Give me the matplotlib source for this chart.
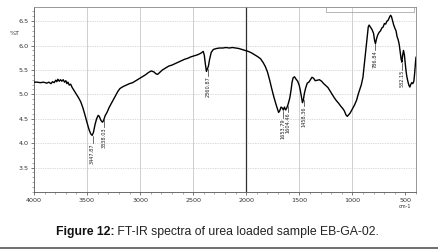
import numpy as np
import matplotlib
matplotlib.use("Agg")
import matplotlib.pyplot as plt
from matplotlib.patches import Rectangle

# ---- data ----
spec = [
(4000, 5.25),(3970, 5.25),(3940, 5.24),(3910, 5.25),(3880, 5.23),(3860, 5.25),(3840, 5.22),
(3825, 5.26),(3810, 5.24),(3795, 5.29),(3785, 5.26),(3775, 5.31),(3762, 5.27),(3750, 5.30),
(3738, 5.27),(3725, 5.30),(3712, 5.25),(3700, 5.28),(3690, 5.22),(3680, 5.25),(3668, 5.19),
(3655, 5.21),(3640, 5.14),(3620, 5.07),(3600, 5.00),(3580, 4.93),(3560, 4.85),(3540, 4.73),
(3520, 4.58),(3500, 4.42),(3480, 4.27),(3465, 4.19),(3452, 4.16),(3440, 4.22),(3425, 4.38),
(3410, 4.50),(3395, 4.57),(3385, 4.55),(3370, 4.47),(3355, 4.43),(3345, 4.46),(3330, 4.56),
(3310, 4.64),(3290, 4.74),(3270, 4.82),(3250, 4.90),(3230, 4.98),(3210, 5.06),(3190, 5.12),
(3160, 5.16),(3130, 5.19),(3100, 5.22),(3070, 5.24),(3040, 5.28),(3010, 5.32),(2980, 5.36),
(2950, 5.40),(2920, 5.45),(2895, 5.48),(2870, 5.46),(2850, 5.42),(2835, 5.41),(2815, 5.45),
(2790, 5.50),(2760, 5.54),(2730, 5.58),(2700, 5.60),(2670, 5.63),(2640, 5.66),(2610, 5.69),
(2580, 5.72),(2550, 5.74),(2520, 5.77),(2490, 5.79),(2460, 5.81),(2430, 5.84),(2405, 5.88),
(2395, 5.80),(2385, 5.62),(2375, 5.47),(2366, 5.52),(2356, 5.58),(2345, 5.72),(2330, 5.86),
(2310, 5.92),(2280, 5.94),(2250, 5.95),(2220, 5.95),(2190, 5.96),(2160, 5.95),(2130, 5.96),
(2100, 5.95),(2070, 5.94),(2040, 5.92),(2010, 5.90),(1980, 5.88),(1950, 5.85),(1920, 5.81),
(1890, 5.77),(1865, 5.73),(1840, 5.65),(1820, 5.57),(1800, 5.46),(1780, 5.30),(1760, 5.12),
(1740, 4.95),(1720, 4.80),(1705, 4.70),(1695, 4.63),(1685, 4.66),(1672, 4.74),(1660, 4.72),
(1650, 4.68),(1640, 4.74),(1628, 4.68),(1618, 4.72),(1605, 4.80),(1590, 4.92),(1578, 5.08),
(1568, 5.25),(1558, 5.34),(1545, 5.36),(1530, 5.31),(1515, 5.27),(1500, 5.18),(1490, 5.08),
(1480, 4.95),(1470, 4.83),(1462, 4.88),(1452, 5.02),(1440, 5.13),(1425, 5.23),(1410, 5.25),
(1395, 5.30),(1380, 5.35),(1365, 5.33),(1350, 5.28),(1330, 5.29),(1310, 5.30),(1290, 5.27),
(1270, 5.22),(1250, 5.18),(1230, 5.14),(1210, 5.07),(1190, 5.00),(1170, 4.93),(1150, 4.87),
(1130, 4.82),(1110, 4.76),(1090, 4.71),(1075, 4.66),(1060, 4.58),(1048, 4.55),(1035, 4.58),
(1020, 4.62),(1000, 4.70),(980, 4.78),(960, 4.88),(945, 5.00),(930, 5.10),(915, 5.20),
(900, 5.35),(888, 5.60),(876, 5.85),(862, 6.15),(850, 6.38),(842, 6.42),(830, 6.38),
(815, 6.33),(800, 6.25),(790, 6.10),(782, 6.04),(772, 6.14),(760, 6.22),(748, 6.27),
(735, 6.30),(722, 6.36),(710, 6.38),(698, 6.45),(686, 6.44),(674, 6.50),(662, 6.52),
(650, 6.58),(640, 6.62),(632, 6.60),(622, 6.52),(610, 6.42),(598, 6.35),(588, 6.30),
(578, 6.18),(568, 6.12),(558, 6.02),(548, 5.85),(540, 5.72),(533, 5.66),(526, 5.80),
(518, 5.90),(510, 5.82),(502, 5.65),(494, 5.48),(486, 5.36),(476, 5.26),(466, 5.18),
(458, 5.15),(450, 5.20),(440, 5.24),(430, 5.22),(420, 5.27),(412, 5.45),(405, 5.65),
(400, 5.76),
]
wavenumber = np.array([p[0] for p in spec], dtype=float)
transmittance = np.array([p[1] for p in spec], dtype=float)

peak_positions = [3447.87, 3338.03, 2360.87, 1653.79, 1604.46, 1458.36, 786.84, 532.15]
peak_labels = ["3447.87", "3338.03", "2360.87", "1653.79", "1604.46", "1458.36", "786.84", "532.15"]

x_ticks = [4000, 3500, 3000, 2500, 2000, 1500, 1000, 500]
x_ticklabels = ["4000", "3500", "3000", "2500", "2000", "1500", "1000", "500"]
y_ticks = [3.5, 4.0, 4.5, 5.0, 5.5, 6.0, 6.5]
y_ticklabels = ["3.5", "4.0", "4.5", "5.0", "5.5", "6.0", "6.5"]
caption_bold = "Figure 12:"
caption_text = " FT-IR spectra of urea loaded sample EB-GA-02."

# ---- figure ----
W, H = 438, 249
fig = plt.figure(figsize=(W / 100, H / 100), dpi=100)
ax = fig.add_axes([34 / W, 1 - 192 / H, (416 - 34) / W, (192 - 7) / H])

ax.set_xlim(4000, 400)
ax.set_ylim(3.0, 6.79)

# grid
for yv in y_ticks:
    ax.axhline(yv, color="#b8b8b8", lw=0.5, ls=(0, (1, 1.5)), zorder=1)
for xv in x_ticks:
    if xv == 2000:
        ax.axvline(xv, color="#303030", lw=0.9, zorder=1)
    elif xv not in (4000, 500):
        ax.axvline(xv, color="#c8c8c8", lw=0.6, zorder=1)

ax.plot(wavenumber, transmittance, color="black", lw=1.0, zorder=3)

# peak labels
for pw, lab in zip(peak_positions, peak_labels):
    yv = np.interp(pw, wavenumber[::-1], transmittance[::-1])
    ax.plot([pw, pw], [yv - 0.04, yv - 0.17], color="#333333", lw=0.5, zorder=3)
    ax.text(pw, yv - 0.18, lab, rotation=90, ha="center", va="top",
            fontsize=3.6, color="#222222", zorder=4)

# ticks
ax.set_xticks(x_ticks)
ax.set_xticklabels(x_ticklabels)
ax.set_xticks(np.arange(400, 4001, 100), minor=True)
ax.set_yticks(y_ticks)
ax.set_yticklabels(y_ticklabels)
ax.set_yticks(np.arange(3.0, 6.8, 0.1), minor=True)
ax.tick_params(axis="both", which="major", labelsize=4.6, length=2.5, width=0.5,
               colors="#444444", labelcolor="#333333", pad=1.5)
ax.tick_params(axis="both", which="minor", length=1.5, width=0.4, colors="#666666")
ax.text(-0.05, 6.25, "%T", transform=ax.get_yaxis_transform(), ha="center", va="center",
        fontsize=4.6, color="#333333")
ax.text(500, 2.745, "cm-1", ha="center", va="top", fontsize=3.6, color="#333333")

for s in ax.spines.values():
    s.set_color("#888888")
    s.set_linewidth(0.6)
ax.spines["left"].set_color("#555555")
ax.spines["bottom"].set_color("#555555")

# small header box at the top right
fig.patches.append(Rectangle((326 / W, 1 - 12 / H), (414 - 326) / W, 5 / H,
                             transform=fig.transFigure, fill=False, ec="#999999", lw=0.5))

# caption (centred as a whole)
fs = 8.85
t1 = fig.text(0, 1 - 232 / H, caption_bold, fontsize=fs, fontweight="bold",
              family="Liberation Sans", va="center", ha="left", color="#111111")
t2 = fig.text(0, 1 - 232 / H, caption_text, fontsize=fs, family="Liberation Sans",
              va="center", ha="left", color="#222222")
fig.canvas.draw()
w1 = t1.get_window_extent().width
w2 = t2.get_window_extent().width
x0 = 217.5 - (w1 + w2) / 2
t1.set_x(x0 / W)
t2.set_x((x0 + w1) / W)

# bottom rule
fig.add_artist(plt.Line2D([0, 1], [1 - 247.5 / H] * 2, transform=fig.transFigure,
                          color="#555555", lw=1.2))

fig.savefig("out.png", dpi=100)
